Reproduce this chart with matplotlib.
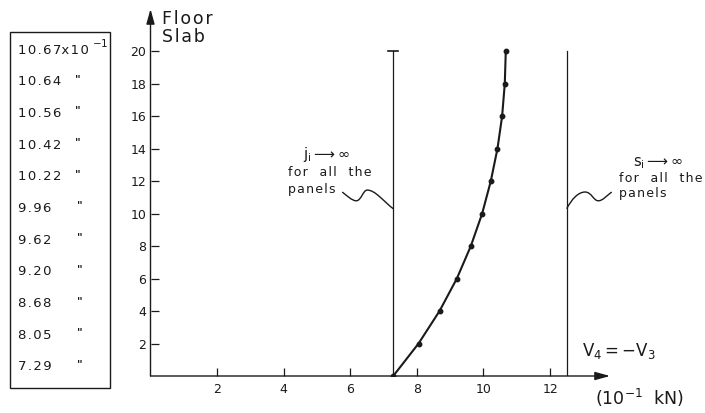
import matplotlib
matplotlib.use("Agg")
import matplotlib.pyplot as plt
from matplotlib.patches import Rectangle, PathPatch
from matplotlib.path import Path

plt.rcParams["font.family"] = "DejaVu Sans"
INK = "#1a1a1a"

# shear per floor slab (10^-1 kN), floor 0 .. 20
floors = [0, 2, 4, 6, 8, 10, 12, 14, 16, 18, 20]
shear = [7.29, 8.05, 8.68, 9.20, 9.62, 9.96, 10.22, 10.42, 10.56, 10.64, 10.67]
box_labels = ["10.67", "10.64", "10.56", "10.42", "10.22", "9.96",
              "9.62", "9.20", "8.68", "8.05", "7.29"]
xticks = [2, 4, 6, 8, 10, 12]
yticks = [2, 4, 6, 8, 10, 12, 14, 16, 18, 20]
j_limit = 7.29    # j_i -> inf
s_limit = 12.5    # s_i -> inf

W, H = 705, 413
fig = plt.figure(figsize=(W / 100, H / 100), dpi=100)
fig.patch.set_facecolor("white")


def fx(px):
    return px / W


def fy(py):
    return 1 - py / H


def spaced(s):
    # wide technical lettering
    return "\u200a".join(s)


ax = fig.add_axes([fx(150.5), fy(376), 459.5 / W, 367 / H])
ax.set_xlim(0, 13.8)
ax.set_ylim(0, 22.6)
for s in ax.spines.values():
    s.set_visible(False)

# axes drawn as arrows
for tip in [(13.8, 0), (0, 22.6)]:
    ax.annotate("", xy=tip, xytext=(0, 0), xycoords="data",
                arrowprops=dict(arrowstyle="-|>,head_length=0.9,head_width=0.25",
                                color=INK, lw=1.0, shrinkA=0, shrinkB=0),
                annotation_clip=False)

ax.set_xticks(xticks)
ax.set_yticks(yticks)
ax.tick_params(axis="both", direction="in", length=6, width=0.9, colors=INK,
               labelsize=9)
ax.tick_params(axis="x", pad=5)
ax.tick_params(axis="y", pad=3)

# limiting cases
ax.plot([j_limit, j_limit], [0, 20], color=INK, lw=0.9)
ax.plot([j_limit - 0.15, j_limit + 0.15], [20, 20], color=INK, lw=1.2)
ax.plot([s_limit, s_limit], [0, 20], color=INK, lw=0.9)

# the curve
ax.plot(shear, floors, color=INK, lw=1.5, marker="o", ms=3.2, zorder=3)


def wave(pts):
    codes = [Path.MOVETO] + [Path.CURVE4] * (len(pts) - 1)
    ax.add_patch(PathPatch(Path(pts, codes), fc="none", ec=INK, lw=1.0,
                           clip_on=False))


wave([(5.76, 11.33),
      (5.9, 11.1), (6.05, 10.79), (6.18, 10.79),
      (6.33, 10.79), (6.38, 11.45), (6.51, 11.45),
      (6.75, 11.45), (7.0, 10.75), (j_limit, 10.3)])
wave([(s_limit, 10.3),
      (12.65, 10.9), (12.85, 11.33), (13.05, 11.33),
      (13.25, 11.33), (13.3, 10.79), (13.45, 10.79),
      (13.58, 10.79), (13.7, 11.1), (13.85, 11.33)])

# annotations
tkw = dict(fontsize=9, color=INK, va="center", ha="left")
fig.text(fx(303), fy(154), r"$\mathregular{j_i \longrightarrow \infty}$",
         **{**tkw, "fontsize": 10.5})
fig.text(fx(288), fy(173), spaced("for  all  the"), **tkw)
fig.text(fx(288), fy(190), spaced("panels"), **tkw)
fig.text(fx(633), fy(163), r"$\mathregular{s_i \longrightarrow \infty}$",
         **{**tkw, "fontsize": 10.5})
fig.text(fx(619), fy(178), spaced("for  all  the"), **tkw)
fig.text(fx(619), fy(193), spaced("panels"), **tkw)

fig.text(fx(162), fy(28), spaced("Floor") + "\n" + spaced("Slab"), fontsize=12.5,
         color=INK, va="center", ha="left", linespacing=0.95)
fig.text(fx(582), fy(351), r"$\mathregular{V_4 = -V_3}$", fontsize=12,
         color=INK, va="center", ha="left")
fig.text(fx(595), fy(398), r"$\mathregular{(10^{-1}\ \ kN)}$", fontsize=12.5,
         color=INK, va="center", ha="left")

# value box on the left
fig.patches.append(Rectangle((fx(10), fy(388)), 100 / W, 356 / H,
                             transform=fig.transFigure, fc="none", ec=INK,
                             lw=1.0))
n = len(box_labels)
for i, lab in enumerate(box_labels):
    y = 50 + i * (367 - 50) / (n - 1)
    fig.text(fx(18), fy(y), spaced(lab) + (spaced("x10") if i == 0 else ""),
             fontsize=9.5, color=INK, va="center", ha="left")
    if i == 0:
        fig.text(fx(92), fy(y - 7), r"$\mathregular{-1}$", fontsize=7.5,
                 color=INK, va="center", ha="left")
    else:
        fig.text(fx(75 if len(lab) == 5 else 77), fy(y - 3), '"', fontsize=8,
                 fontweight="bold", color=INK, va="center", ha="left")

fig.savefig("out.png", dpi=100, facecolor="white")
